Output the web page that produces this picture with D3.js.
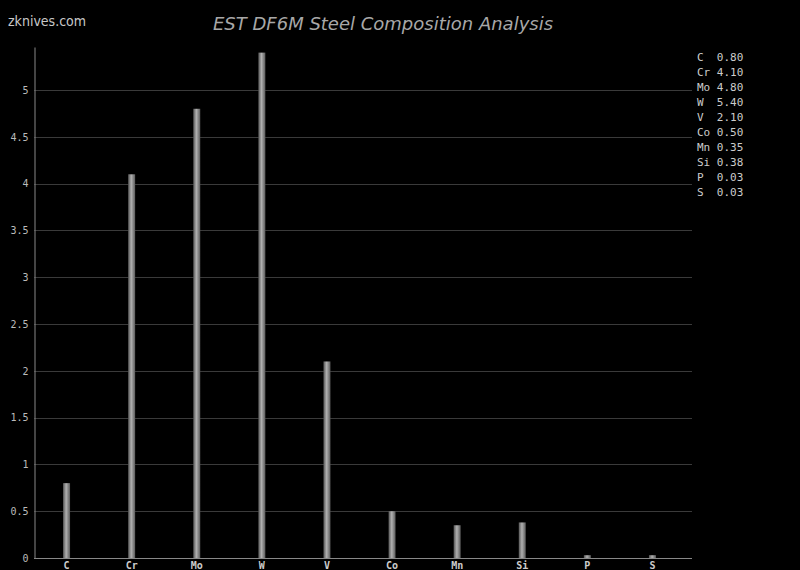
<!DOCTYPE html>
<html lang="en">
<head>
<meta charset="UTF-8">
<title>EST DF6M Steel Composition Analysis</title>
<script src="https://cdn.jsdelivr.net/npm/d3@7"></script>
<style>
  body { margin: 0; background: #000; }
  svg { display: block; }
</style>
</head>
<body>
<svg width="800" height="570"></svg>
<script>
    // data
    var elements = ["C", "Cr", "Mo", "W", "V", "Co", "Mn", "Si", "P", "S"];
    var percents = [0.80, 4.10, 4.80, 5.40, 2.10, 0.50, 0.35, 0.38, 0.03, 0.03];
    var yTicks = [0, 0.5, 1, 1.5, 2, 2.5, 3, 3.5, 4, 4.5, 5];

    var svg = d3.select("svg");
    var plotLeft = 34, plotRight = 692, bandRight = 685, plotTop = 47, plotBottom = 558;

    var x = d3.scaleBand().domain(elements).range([plotLeft, bandRight]);
    var y = d3.scaleLinear().domain([0, 5.46]).range([plotBottom, plotTop]);

    // bar gradient
    var grad = svg.append("defs").append("linearGradient")
        .attr("id", "barGrad").attr("x1", "0%").attr("x2", "100%");
    grad.append("stop").attr("offset", "0%").attr("stop-color", "#555");
    grad.append("stop").attr("offset", "45%").attr("stop-color", "#b0b0b0");
    grad.append("stop").attr("offset", "100%").attr("stop-color", "#5a5a5a");

    // title + site
    svg.append("text").attr("x", 8).attr("y", 26)
        .attr("font-family", "DejaVu Sans Condensed, DejaVu Sans, sans-serif").attr("font-size", 14)
        .attr("fill", "#c8c8c8").text("zknives.com");
    svg.append("text").attr("x", 383).attr("y", 30).attr("text-anchor", "middle")
        .attr("font-family", "DejaVu Sans, sans-serif").attr("font-style", "italic")
        .attr("font-size", 18).attr("fill", "#a8a8a8")
        .text("EST DF6M Steel Composition Analysis");

    // gridlines
    svg.append("g").selectAll("line").data(yTicks.filter(function (d) { return d > 0; }))
        .enter().append("line")
        .attr("x1", plotLeft).attr("x2", plotRight)
        .attr("y1", function (d) { return Math.round(y(d)) + 0.5; })
        .attr("y2", function (d) { return Math.round(y(d)) + 0.5; })
        .attr("stroke", "#3a3a3a").attr("stroke-width", 1);

    // y axis
    var yAxis = d3.axisLeft(y).tickValues(yTicks).tickSize(0).tickPadding(6)
        .tickFormat(function (d) { return d; });
    var gy = svg.append("g").attr("transform", "translate(" + (plotLeft + 0.5) + ",0)").call(yAxis);
    gy.select(".domain").attr("stroke", "#888");
    gy.selectAll("text").attr("fill", "#bbb")
        .attr("font-family", "DejaVu Sans Mono, monospace").attr("font-size", 10);

    // x axis
    var xAxis = d3.axisBottom(x).tickSize(0).tickPadding(3);
    var gx = svg.append("g").attr("transform", "translate(0," + (plotBottom + 0.5) + ")").call(xAxis);
    gx.select(".domain").attr("d", "M" + plotLeft + ",0H" + plotRight).attr("stroke", "#888");
    gx.selectAll("text").attr("fill", "#ccc")
        .attr("font-family", "DejaVu Sans Mono, monospace").attr("font-size", 10)
        .attr("font-weight", "bold");

    // bars
    var barW = 7;
    svg.append("g").selectAll("rect").data(elements).enter().append("rect")
        .attr("x", function (d) { return x(d) + x.bandwidth() / 2 - barW / 2; })
        .attr("y", function (d, i) { return y(percents[i]); })
        .attr("width", barW)
        .attr("height", function (d, i) { return plotBottom - y(percents[i]); })
        .attr("fill", "url(#barGrad)");

    // legend
    svg.append("g").selectAll("text").data(elements).enter().append("text")
        .attr("x", 697)
        .attr("y", function (d, i) { return 61 + i * 15; })
        .attr("font-family", "DejaVu Sans Mono, monospace").attr("font-size", 11)
        .attr("fill", "#ccc").attr("xml:space", "preserve")
        .text(function (d, i) { return (d + "  ").slice(0, 3) + percents[i].toFixed(2); });
</script>
</body>
</html>
